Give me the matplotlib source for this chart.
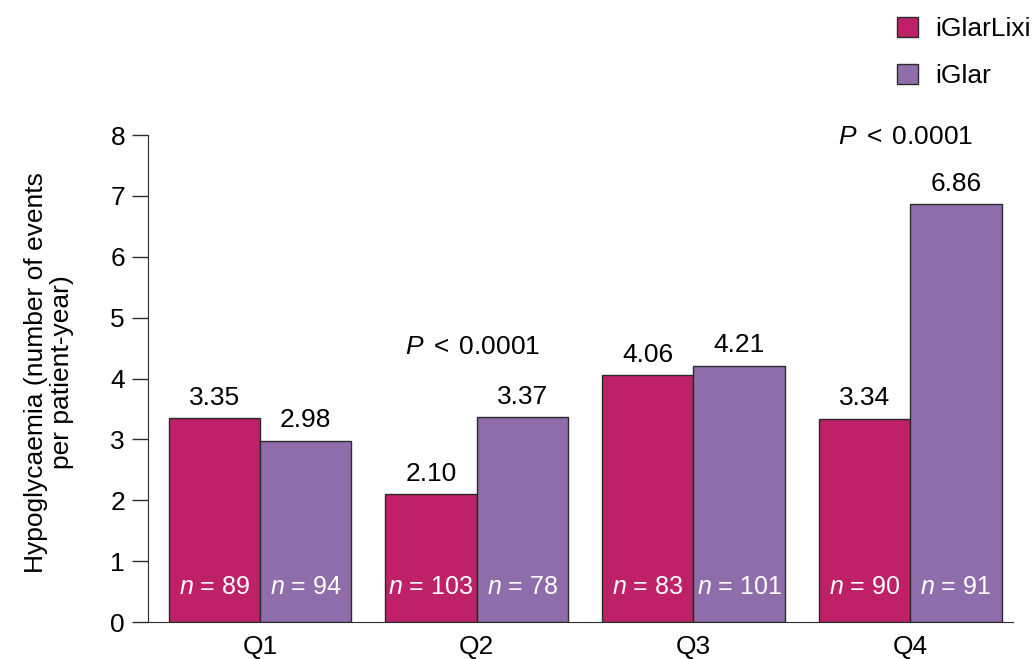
import numpy as np
import matplotlib.pyplot as plt
from matplotlib.patches import Patch

plt.rcParams['font.family'] = ['Liberation Sans', 'DejaVu Sans']
plt.rcParams['mathtext.fontset'] = 'custom'
plt.rcParams['mathtext.rm'] = 'Liberation Sans'
plt.rcParams['mathtext.it'] = 'Liberation Sans:italic'

quarters = ['Q1', 'Q2', 'Q3', 'Q4']
iglarlixi = [3.35, 2.10, 4.06, 3.34]
iglar = [2.98, 3.37, 4.21, 6.86]
n_iglarlixi = [89, 103, 83, 90]
n_iglar = [94, 78, 101, 91]
p_labels = {1: 4.52, 3: 7.96}  # quarter index -> label height

c_lixi = '#BE2167'
c_glar = '#8E6DAA'
edge = '#2b2b2b'
fs = 19

fig = plt.figure(figsize=(10.34, 6.59), dpi=100)
ax = fig.add_axes([0.1431, 0.0561, 0.8366, 0.7390])

x = np.arange(len(quarters))
w = 0.422
ax.bar(x - w/2, iglarlixi, w, color=c_lixi, edgecolor=edge, linewidth=1)
ax.bar(x + w/2, iglar, w, color=c_glar, edgecolor=edge, linewidth=1)

for i in range(len(quarters)):
    ax.annotate(f'{iglarlixi[i]:.2f}', (x[i] - w/2, iglarlixi[i]), xytext=(0, 6),
                textcoords='offset points', ha='center', va='bottom', fontsize=fs)
    ax.annotate(f'{iglar[i]:.2f}', (x[i] + w/2, iglar[i]), xytext=(0, 6),
                textcoords='offset points', ha='center', va='bottom', fontsize=fs)
    ax.text(x[i] - w/2, 0.575, f'$n$ = {n_iglarlixi[i]}', ha='center', va='center',
            color='white', fontsize=18)
    ax.text(x[i] + w/2, 0.575, f'$n$ = {n_iglar[i]}', ha='center', va='center',
            color='white', fontsize=18)

for i, yv in p_labels.items():
    ax.text(x[i] - 0.02, yv, r'$P\;<\;\mathrm{0.0001}$', ha='center', va='center',
            fontsize=fs)

ax.set_xlim(-0.517, 3.475)
ax.set_ylim(0, 8)
ax.set_yticks(range(0, 9))
ax.set_xticks(x)
ax.set_xticklabels(quarters)
ax.tick_params(axis='x', length=0, pad=9, labelsize=fs)
ax.tick_params(axis='y', length=11.5, width=1, color=edge, pad=5, labelsize=fs)
ax.spines[['top', 'right']].set_visible(False)
ax.spines['left'].set_color(edge)
ax.spines['bottom'].set_color(edge)

ax.set_ylabel('Hypoglycaemia (number of events\nper patient-year)', fontsize=fs,
              linespacing=1.15)
ax.yaxis.set_label_coords(-0.085, 0.513)

handles = [Patch(facecolor=c_lixi, edgecolor=edge, label='iGlarLixi'),
           Patch(facecolor=c_glar, edgecolor=edge, label='iGlar')]
fig.legend(handles=handles, loc='upper left', bbox_to_anchor=(897 / 1034, 0.974),
           frameon=False, fontsize=fs, handlelength=0.8, handleheight=0.8,
           labelspacing=0.85, handletextpad=0.65, borderpad=0, borderaxespad=0)

fig.savefig('out.png', dpi=100)
